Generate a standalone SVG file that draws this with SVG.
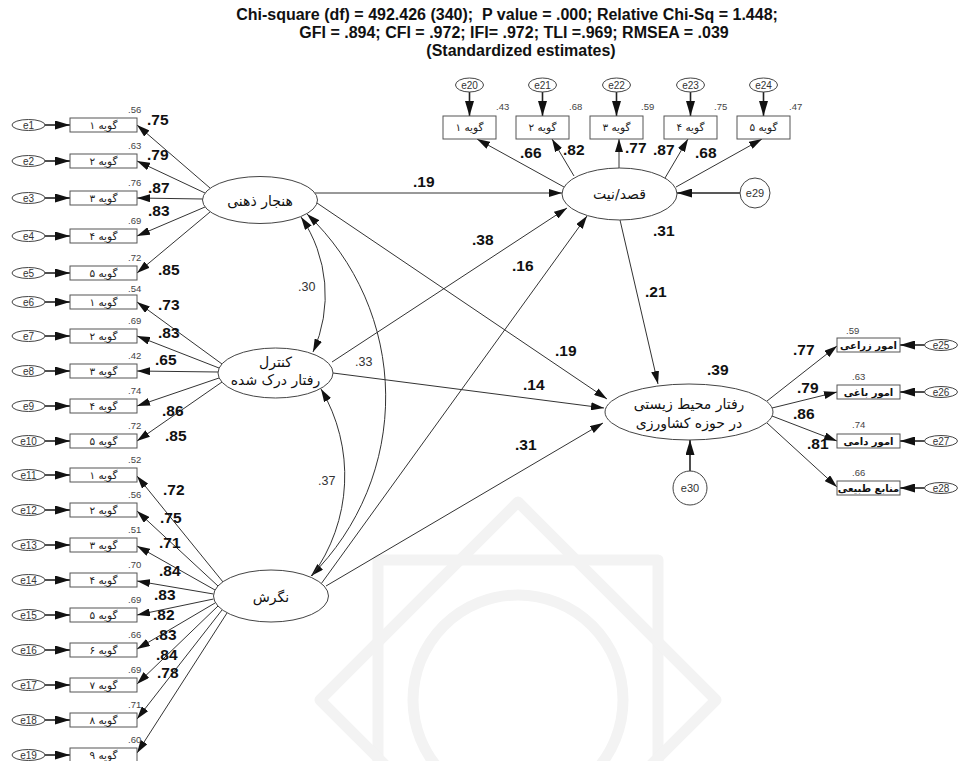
<svg xmlns="http://www.w3.org/2000/svg" width="959" height="761" viewBox="0 0 959 761">
<defs>
<marker id="ah" viewBox="0 0 13 8" refX="13" refY="4" markerWidth="13" markerHeight="8" markerUnits="userSpaceOnUse" orient="auto-start-reverse"><path d="M0,0 L13,4 L0,8 z" fill="#111"/></marker>
<marker id="ahE" viewBox="0 0 15 9" refX="15" refY="4.5" markerWidth="15" markerHeight="9" markerUnits="userSpaceOnUse" orient="auto"><path d="M0,0 L15,4.5 L0,9 z" fill="#111"/></marker>
</defs>
<style>
.bg{fill:#fff}
.wm{fill:none;stroke:#f3f3f3;stroke-width:11;stroke-linejoin:round}
.ln{stroke:#333;stroke-width:1;fill:none}
.le{stroke:#222;stroke-width:1.6;fill:none}
.box{fill:#fff;stroke:#555;stroke-width:1}
.lat{fill:#fff;stroke:#444;stroke-width:1}
.err{fill:#fff;stroke:#444;stroke-width:1}
.t{font-family:"Liberation Sans",Arial,sans-serif;font-weight:bold;font-size:16px;fill:#111;text-anchor:middle;white-space:pre}
.ld{font-family:"Liberation Sans",Arial,sans-serif;font-weight:bold;font-size:15.5px;fill:#111}
.r2{font-family:"Liberation Sans",Arial,sans-serif;font-size:9.5px;fill:#444}
.cv{font-family:"Liberation Sans",Arial,sans-serif;font-size:12.5px;fill:#333}
.el{font-family:"Liberation Sans",Arial,sans-serif;font-size:10px;fill:#333;text-anchor:middle}
.bt{font-family:"DejaVu Sans",sans-serif;font-size:10.5px;fill:#222;text-anchor:middle}
.btb{font-family:"DejaVu Sans",sans-serif;font-size:10px;font-weight:bold;fill:#111;text-anchor:middle}
.lt{font-family:"DejaVu Sans",sans-serif;font-size:14px;fill:#111;text-anchor:middle}
</style>
<rect class="bg" x="0" y="0" width="959" height="761"/>
<g id="watermark">
<rect class="wm" x="378" y="560" width="280" height="280"/>
<rect class="wm" x="378" y="560" width="280" height="280" transform="rotate(45 518 700)"/>
<circle class="wm" cx="518" cy="700" r="105"/>
</g>
<g id="title">
<text class="t" x="507" y="20">Chi-square (df) = 492.426 (340);  P value = .000; Relative Chi-Sq = 1.448;</text>
<text class="t" x="514" y="38">GFI = .894; CFI = .972; IFI= .972; TLI =.969; RMSEA = .039</text>
<text class="t" x="521" y="56">(Standardized estimates)</text>
</g>
<g id="connectors">
<line class="le" x1="45" y1="125" x2="70" y2="125" marker-end="url(#ahE)"/>
<line class="le" x1="45" y1="161" x2="70" y2="161" marker-end="url(#ahE)"/>
<line class="le" x1="45" y1="198" x2="70" y2="198" marker-end="url(#ahE)"/>
<line class="le" x1="45" y1="236" x2="70" y2="236" marker-end="url(#ahE)"/>
<line class="le" x1="45" y1="273" x2="70" y2="273" marker-end="url(#ahE)"/>
<line class="le" x1="45" y1="302" x2="70" y2="302" marker-end="url(#ahE)"/>
<line class="le" x1="45" y1="336" x2="70" y2="336" marker-end="url(#ahE)"/>
<line class="le" x1="45" y1="371" x2="70" y2="371" marker-end="url(#ahE)"/>
<line class="le" x1="45" y1="406" x2="70" y2="406" marker-end="url(#ahE)"/>
<line class="le" x1="45" y1="441" x2="70" y2="441" marker-end="url(#ahE)"/>
<line class="le" x1="45" y1="475" x2="70" y2="475" marker-end="url(#ahE)"/>
<line class="le" x1="45" y1="510" x2="70" y2="510" marker-end="url(#ahE)"/>
<line class="le" x1="45" y1="545" x2="70" y2="545" marker-end="url(#ahE)"/>
<line class="le" x1="45" y1="580" x2="70" y2="580" marker-end="url(#ahE)"/>
<line class="le" x1="45" y1="615" x2="70" y2="615" marker-end="url(#ahE)"/>
<line class="le" x1="45" y1="650" x2="70" y2="650" marker-end="url(#ahE)"/>
<line class="le" x1="45" y1="685" x2="70" y2="685" marker-end="url(#ahE)"/>
<line class="le" x1="45" y1="720" x2="70" y2="720" marker-end="url(#ahE)"/>
<line class="le" x1="45" y1="755" x2="70" y2="755" marker-end="url(#ahE)"/>
<line class="le" x1="469.5" y1="92" x2="469.5" y2="116" marker-end="url(#ahE)"/>
<line class="le" x1="542.5" y1="92" x2="542.5" y2="116" marker-end="url(#ahE)"/>
<line class="le" x1="616.5" y1="92" x2="616.5" y2="116" marker-end="url(#ahE)"/>
<line class="le" x1="690.5" y1="92" x2="690.5" y2="116" marker-end="url(#ahE)"/>
<line class="le" x1="763.5" y1="92" x2="763.5" y2="116" marker-end="url(#ahE)"/>
<line class="le" x1="925" y1="345" x2="900" y2="345" marker-end="url(#ahE)"/>
<line class="le" x1="925" y1="392" x2="900" y2="392" marker-end="url(#ahE)"/>
<line class="le" x1="925" y1="441" x2="900" y2="441" marker-end="url(#ahE)"/>
<line class="le" x1="925" y1="488" x2="900" y2="488" marker-end="url(#ahE)"/>
<line class="le" x1="740" y1="193" x2="677" y2="193" marker-end="url(#ahE)"/>
<line class="le" x1="690" y1="471" x2="690" y2="440" marker-end="url(#ahE)"/>
<line class="ln" x1="210" y1="188" x2="137" y2="125" marker-end="url(#ah)"/>
<line class="ln" x1="205" y1="193" x2="137" y2="161" marker-end="url(#ah)"/>
<line class="ln" x1="203" y1="199" x2="137" y2="198" marker-end="url(#ah)"/>
<line class="ln" x1="205" y1="207" x2="137" y2="236" marker-end="url(#ah)"/>
<line class="ln" x1="210" y1="212" x2="137" y2="273" marker-end="url(#ah)"/>
<line class="ln" x1="222" y1="364" x2="137" y2="302" marker-end="url(#ah)"/>
<line class="ln" x1="219" y1="368" x2="137" y2="336" marker-end="url(#ah)"/>
<line class="ln" x1="218" y1="372" x2="137" y2="371" marker-end="url(#ah)"/>
<line class="ln" x1="219" y1="378" x2="137" y2="406" marker-end="url(#ah)"/>
<line class="ln" x1="222" y1="382" x2="137" y2="441" marker-end="url(#ah)"/>
<line class="ln" x1="223" y1="582" x2="137" y2="476" marker-end="url(#ah)"/>
<line class="ln" x1="218" y1="586" x2="137" y2="511" marker-end="url(#ah)"/>
<line class="ln" x1="215" y1="590" x2="137" y2="546" marker-end="url(#ah)"/>
<line class="ln" x1="213.5" y1="594" x2="137" y2="581" marker-end="url(#ah)"/>
<line class="ln" x1="213.5" y1="599" x2="137" y2="615" marker-end="url(#ah)"/>
<line class="ln" x1="215" y1="603" x2="137" y2="649" marker-end="url(#ah)"/>
<line class="ln" x1="218" y1="606" x2="137" y2="684" marker-end="url(#ah)"/>
<line class="ln" x1="222" y1="610" x2="137" y2="719" marker-end="url(#ah)"/>
<line class="ln" x1="227" y1="613" x2="137" y2="753" marker-end="url(#ah)"/>
<line class="ln" x1="564" y1="187" x2="477" y2="139" marker-end="url(#ah)"/>
<line class="ln" x1="574" y1="176" x2="552" y2="139" marker-end="url(#ah)"/>
<line class="ln" x1="619" y1="168" x2="619" y2="139" marker-end="url(#ah)"/>
<line class="ln" x1="665" y1="178" x2="688" y2="139" marker-end="url(#ah)"/>
<line class="ln" x1="676" y1="187" x2="762" y2="139" marker-end="url(#ah)"/>
<line class="ln" x1="767" y1="401" x2="837" y2="346" marker-end="url(#ah)"/>
<line class="ln" x1="772" y1="408" x2="837" y2="392" marker-end="url(#ah)"/>
<line class="ln" x1="772" y1="416" x2="837" y2="441" marker-end="url(#ah)"/>
<line class="ln" x1="767" y1="423" x2="837" y2="487" marker-end="url(#ah)"/>
<line class="ln" x1="315" y1="193" x2="562" y2="193" marker-end="url(#ah)"/>
<line class="ln" x1="317" y1="203" x2="607" y2="399" marker-end="url(#ah)"/>
<line class="ln" x1="332" y1="362" x2="567" y2="208" marker-end="url(#ah)"/>
<line class="ln" x1="333" y1="373" x2="604" y2="408" marker-end="url(#ah)"/>
<line class="ln" x1="321" y1="584" x2="587" y2="216" marker-end="url(#ah)"/>
<line class="ln" x1="326" y1="586" x2="603" y2="423" marker-end="url(#ah)"/>
<line class="ln" x1="620" y1="220" x2="658" y2="384" marker-end="url(#ah)"/>
<path class="ln" d="M301,217 A138,138 0 0 1 313,352" marker-start="url(#ah)" marker-end="url(#ah)"/>
<path class="ln" d="M307,214 A252,252 0 0 1 311,576" marker-start="url(#ah)" marker-end="url(#ah)"/>
<path class="ln" d="M321,389 A170,170 0 0 1 312,576" marker-start="url(#ah)"/>
</g>
<g id="labels">
<text class="ld" x="147" y="125">.75</text>
<text class="ld" x="147" y="160">.79</text>
<text class="ld" x="148" y="193">.87</text>
<text class="ld" x="148" y="216">.83</text>
<text class="ld" x="158" y="275">.85</text>
<text class="ld" x="158" y="310">.73</text>
<text class="ld" x="158" y="338">.83</text>
<text class="ld" x="155" y="365">.65</text>
<text class="ld" x="162" y="416">.86</text>
<text class="ld" x="165" y="441">.85</text>
<text class="ld" x="163" y="495">.72</text>
<text class="ld" x="160" y="523">.75</text>
<text class="ld" x="159" y="548">.71</text>
<text class="ld" x="159" y="576">.84</text>
<text class="ld" x="154" y="600">.83</text>
<text class="ld" x="153" y="620">.82</text>
<text class="ld" x="155" y="640">.83</text>
<text class="ld" x="156" y="660">.84</text>
<text class="ld" x="157" y="678">.78</text>
<text class="ld" x="520" y="158">.66</text>
<text class="ld" x="563" y="155">.82</text>
<text class="ld" x="625" y="153">.77</text>
<text class="ld" x="653" y="155">.87</text>
<text class="ld" x="695" y="158">.68</text>
<text class="ld" x="793" y="355">.77</text>
<text class="ld" x="797" y="393">.79</text>
<text class="ld" x="793" y="419">.86</text>
<text class="ld" x="807" y="449">.81</text>
<text class="ld" x="413" y="187">.19</text>
<text class="ld" x="555" y="356">.19</text>
<text class="ld" x="472" y="245">.38</text>
<text class="ld" x="512" y="271">.16</text>
<text class="ld" x="523" y="390">.14</text>
<text class="ld" x="515" y="450">.31</text>
<text class="ld" x="645" y="297">.21</text>
<text class="ld" x="653" y="236">.31</text>
<text class="ld" x="707" y="375">.39</text>
<text class="cv" x="298" y="291">.30</text>
<text class="cv" x="355" y="366">.33</text>
<text class="cv" x="318" y="485">.37</text>
<text class="r2" x="128" y="113">.56</text>
<text class="r2" x="128" y="149">.63</text>
<text class="r2" x="128" y="186">.76</text>
<text class="r2" x="128" y="224">.69</text>
<text class="r2" x="128" y="261">.72</text>
<text class="r2" x="128" y="292">.54</text>
<text class="r2" x="128" y="324">.69</text>
<text class="r2" x="128" y="359">.42</text>
<text class="r2" x="128" y="394">.74</text>
<text class="r2" x="128" y="429">.72</text>
<text class="r2" x="128" y="463">.52</text>
<text class="r2" x="128" y="498">.56</text>
<text class="r2" x="128" y="533">.51</text>
<text class="r2" x="128" y="568">.70</text>
<text class="r2" x="128" y="603">.69</text>
<text class="r2" x="128" y="638">.66</text>
<text class="r2" x="128" y="673">.69</text>
<text class="r2" x="128" y="708">.71</text>
<text class="r2" x="128" y="743">.60</text>
<text class="r2" x="496" y="110">.43</text>
<text class="r2" x="569" y="110">.68</text>
<text class="r2" x="641" y="110">.59</text>
<text class="r2" x="714" y="110">.75</text>
<text class="r2" x="789" y="110">.47</text>
<text class="r2" x="846" y="334">.59</text>
<text class="r2" x="852" y="380">.63</text>
<text class="r2" x="852" y="428">.74</text>
<text class="r2" x="852" y="476">.66</text>
</g>
<g id="e1"><ellipse class="err" cx="28.5" cy="125" rx="16.5" ry="5.5"/><text class="el" x="28.5" y="128.5">e1</text></g>
<g id="e2"><ellipse class="err" cx="28.5" cy="161" rx="16.5" ry="5.5"/><text class="el" x="28.5" y="164.5">e2</text></g>
<g id="e3"><ellipse class="err" cx="28.5" cy="198" rx="16.5" ry="5.5"/><text class="el" x="28.5" y="201.5">e3</text></g>
<g id="e4"><ellipse class="err" cx="28.5" cy="236" rx="16.5" ry="5.5"/><text class="el" x="28.5" y="239.5">e4</text></g>
<g id="e5"><ellipse class="err" cx="28.5" cy="273" rx="16.5" ry="5.5"/><text class="el" x="28.5" y="276.5">e5</text></g>
<g id="e6"><ellipse class="err" cx="28.5" cy="302" rx="16.5" ry="5.5"/><text class="el" x="28.5" y="305.5">e6</text></g>
<g id="e7"><ellipse class="err" cx="28.5" cy="336" rx="16.5" ry="5.5"/><text class="el" x="28.5" y="339.5">e7</text></g>
<g id="e8"><ellipse class="err" cx="28.5" cy="371" rx="16.5" ry="5.5"/><text class="el" x="28.5" y="374.5">e8</text></g>
<g id="e9"><ellipse class="err" cx="28.5" cy="406" rx="16.5" ry="5.5"/><text class="el" x="28.5" y="409.5">e9</text></g>
<g id="e10"><ellipse class="err" cx="28.5" cy="441" rx="16.5" ry="5.5"/><text class="el" x="28.5" y="444.5">e10</text></g>
<g id="e11"><ellipse class="err" cx="28.5" cy="475" rx="16.5" ry="5.5"/><text class="el" x="28.5" y="478.5">e11</text></g>
<g id="e12"><ellipse class="err" cx="28.5" cy="510" rx="16.5" ry="5.5"/><text class="el" x="28.5" y="513.5">e12</text></g>
<g id="e13"><ellipse class="err" cx="28.5" cy="545" rx="16.5" ry="5.5"/><text class="el" x="28.5" y="548.5">e13</text></g>
<g id="e14"><ellipse class="err" cx="28.5" cy="580" rx="16.5" ry="5.5"/><text class="el" x="28.5" y="583.5">e14</text></g>
<g id="e15"><ellipse class="err" cx="28.5" cy="615" rx="16.5" ry="5.5"/><text class="el" x="28.5" y="618.5">e15</text></g>
<g id="e16"><ellipse class="err" cx="28.5" cy="650" rx="16.5" ry="5.5"/><text class="el" x="28.5" y="653.5">e16</text></g>
<g id="e17"><ellipse class="err" cx="28.5" cy="685" rx="16.5" ry="5.5"/><text class="el" x="28.5" y="688.5">e17</text></g>
<g id="e18"><ellipse class="err" cx="28.5" cy="720" rx="16.5" ry="5.5"/><text class="el" x="28.5" y="723.5">e18</text></g>
<g id="e19"><ellipse class="err" cx="28.5" cy="755" rx="16.5" ry="5.5"/><text class="el" x="28.5" y="758.5">e19</text></g>
<g id="e20"><ellipse class="err" cx="469.5" cy="85" rx="14" ry="7"/><text class="el" x="469.5" y="88.5">e20</text></g>
<g id="e21"><ellipse class="err" cx="542.5" cy="85" rx="14" ry="7"/><text class="el" x="542.5" y="88.5">e21</text></g>
<g id="e22"><ellipse class="err" cx="616.5" cy="85" rx="14" ry="7"/><text class="el" x="616.5" y="88.5">e22</text></g>
<g id="e23"><ellipse class="err" cx="690.5" cy="85" rx="14" ry="7"/><text class="el" x="690.5" y="88.5">e23</text></g>
<g id="e24"><ellipse class="err" cx="763.5" cy="85" rx="14" ry="7"/><text class="el" x="763.5" y="88.5">e24</text></g>
<g id="e25"><ellipse class="err" cx="941" cy="345" rx="16.5" ry="5.5"/><text class="el" x="941" y="348.5">e25</text></g>
<g id="e26"><ellipse class="err" cx="941" cy="392" rx="16.5" ry="5.5"/><text class="el" x="941" y="395.5">e26</text></g>
<g id="e27"><ellipse class="err" cx="941" cy="441" rx="16.5" ry="5.5"/><text class="el" x="941" y="444.5">e27</text></g>
<g id="e28"><ellipse class="err" cx="941" cy="488" rx="16.5" ry="5.5"/><text class="el" x="941" y="491.5">e28</text></g>
<g id="e29"><circle class="err" cx="755" cy="193" r="15"/><text class="el" x="755" y="197" style="font-size:11px">e29</text></g>
<g id="e30"><circle class="err" cx="690" cy="488" r="17"/><text class="el" x="690" y="492" style="font-size:11px">e30</text></g>
<g id="hq1"><rect class="box" x="70" y="118" width="67" height="14"/><text class="bt" x="103.5" y="129">گویه ۱</text></g>
<g id="hq2"><rect class="box" x="70" y="154" width="67" height="14"/><text class="bt" x="103.5" y="165">گویه ۲</text></g>
<g id="hq3"><rect class="box" x="70" y="191" width="67" height="14"/><text class="bt" x="103.5" y="202">گویه ۳</text></g>
<g id="hq4"><rect class="box" x="70" y="229" width="67" height="14"/><text class="bt" x="103.5" y="240">گویه ۴</text></g>
<g id="hq5"><rect class="box" x="70" y="266" width="67" height="14"/><text class="bt" x="103.5" y="277">گویه ۵</text></g>
<g id="cq1"><rect class="box" x="70" y="295" width="67" height="14"/><text class="bt" x="103.5" y="306">گویه ۱</text></g>
<g id="cq2"><rect class="box" x="70" y="329" width="67" height="14"/><text class="bt" x="103.5" y="340">گویه ۲</text></g>
<g id="cq3"><rect class="box" x="70" y="364" width="67" height="14"/><text class="bt" x="103.5" y="375">گویه ۳</text></g>
<g id="cq4"><rect class="box" x="70" y="399" width="67" height="14"/><text class="bt" x="103.5" y="410">گویه ۴</text></g>
<g id="cq5"><rect class="box" x="70" y="434" width="67" height="14"/><text class="bt" x="103.5" y="445">گویه ۵</text></g>
<g id="aq1"><rect class="box" x="70" y="468" width="67" height="14"/><text class="bt" x="103.5" y="479">گویه ۱</text></g>
<g id="aq2"><rect class="box" x="70" y="503" width="67" height="14"/><text class="bt" x="103.5" y="514">گویه ۲</text></g>
<g id="aq3"><rect class="box" x="70" y="538" width="67" height="14"/><text class="bt" x="103.5" y="549">گویه ۳</text></g>
<g id="aq4"><rect class="box" x="70" y="573" width="67" height="14"/><text class="bt" x="103.5" y="584">گویه ۴</text></g>
<g id="aq5"><rect class="box" x="70" y="608" width="67" height="14"/><text class="bt" x="103.5" y="619">گویه ۵</text></g>
<g id="aq6"><rect class="box" x="70" y="643" width="67" height="14"/><text class="bt" x="103.5" y="654">گویه ۶</text></g>
<g id="aq7"><rect class="box" x="70" y="678" width="67" height="14"/><text class="bt" x="103.5" y="689">گویه ۷</text></g>
<g id="aq8"><rect class="box" x="70" y="713" width="67" height="14"/><text class="bt" x="103.5" y="724">گویه ۸</text></g>
<g id="aq9"><rect class="box" x="70" y="748" width="67" height="14"/><text class="bt" x="103.5" y="759">گویه ۹</text></g>
<g id="iq1"><rect class="box" x="443" y="116" width="53" height="23"/><text class="bt" x="469.5" y="131">گویه ۱</text></g>
<g id="iq2"><rect class="box" x="516" y="116" width="53" height="23"/><text class="bt" x="542.5" y="131">گویه ۲</text></g>
<g id="iq3"><rect class="box" x="590" y="116" width="53" height="23"/><text class="bt" x="616.5" y="131">گویه ۳</text></g>
<g id="iq4"><rect class="box" x="664" y="116" width="53" height="23"/><text class="bt" x="690.5" y="131">گویه ۴</text></g>
<g id="iq5"><rect class="box" x="737" y="116" width="53" height="23"/><text class="bt" x="763.5" y="131">گویه ۵</text></g>
<g id="bq1"><rect class="box" x="837" y="338" width="63" height="14"/><text class="btb" x="868.5" y="349">امور زراعی</text></g>
<g id="bq2"><rect class="box" x="837" y="385" width="63" height="14"/><text class="btb" x="868.5" y="396">امور باغی</text></g>
<g id="bq3"><rect class="box" x="837" y="434" width="63" height="14"/><text class="btb" x="868.5" y="445">امور دامی</text></g>
<g id="bq4"><rect class="box" x="837" y="481" width="63" height="14"/><text class="btb" x="868.5" y="492">منابع طبیعی</text></g>
<g id="norm"><ellipse class="lat" cx="260" cy="200" rx="57.5" ry="23.5"/><text class="lt" x="260" y="206">هنجار ذهنی</text></g>
<g id="control"><ellipse class="lat" cx="275.5" cy="373" rx="57.5" ry="25"/><text class="lt" x="275.5" y="367">کنترل</text><text class="lt" x="275.5" y="385">رفتار درک شده</text></g>
<g id="attitude"><ellipse class="lat" cx="271" cy="596" rx="57.5" ry="26"/><text class="lt" x="271" y="602">نگرش</text></g>
<g id="intention"><ellipse class="lat" cx="619.5" cy="194" rx="57.5" ry="26"/><text class="lt" x="619.5" y="199">قصد/نیت</text></g>
<g id="behaviour"><ellipse class="lat" cx="689" cy="412" rx="84" ry="28"/><text class="lt" x="689" y="409">رفتار محیط زیستی</text><text class="lt" x="689" y="428">در حوزه کشاورزی</text></g>
</svg>
